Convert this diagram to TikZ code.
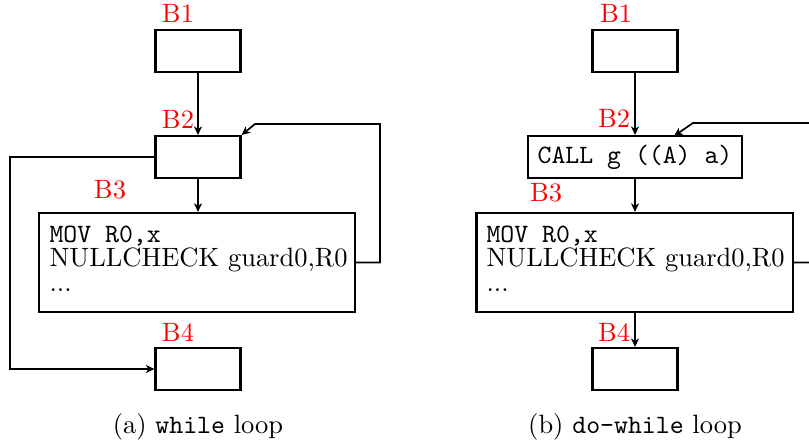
\documentclass[tikz,border=0pt]{standalone}
\usetikzlibrary{arrows.meta}
\begin{document}
\begin{tikzpicture}[x=0.3774pt,y=-0.3774pt,
  blk/.style={draw,line width=0.8pt,rectangle,inner sep=0pt},
  smallblk/.style={blk,minimum width=32.1pt,minimum height=15.85pt},
  lbl/.style={text=red,anchor=base,inner sep=0pt,font=\fontsize{10}{12}\selectfont},
  conn/.style={line width=0.65pt,-{Stealth[length=3.2pt,width=3pt,inset=0.9pt]}},
  codetext/.style={anchor=north west,inner sep=0pt,align=left,font=\fontsize{10}{9.4}\selectfont},
  captext/.style={anchor=base,inner sep=0pt}]
\useasboundingbox (0,0) rectangle (809,443);
% ---------- (a) while loop ----------
\node[smallblk] (a1) at (198,51) {};
\node[smallblk] (a2) at (198,157) {};
\node[blk,minimum width=119.3pt,minimum height=37.4pt] (a3) at (197,262.5) {};
\node[smallblk] (a4) at (198,369) {};
\node[lbl] (la1) at (178,23) {B1};
\node[lbl] (la2) at (178,129) {B2};
\node[lbl] (la3) at (110,199) {B3};
\node[lbl] (la4) at (178,341) {B4};
\node[codetext] (ta3) at (49,225) {\texttt{MOV R0,x}\\NULLCHECK guard0,R0\\...};
\draw[conn] (a1) -- (a2);
\draw[conn] (a2) -- (a2 |- a3.north);
\coordinate (aL) at (10,157);
\draw[conn] (a2.west) -- (aL) |- (a4.west);
\coordinate (aR) at (380,124);
\coordinate (aK) at (255,124);
\draw[conn] (a3.east) -| (aR) -- (aK) -- (a2.north east);
\node[captext] (capa) at (198,433) {(a) \texttt{while} loop};
% ---------- (b) do-while loop ----------
\node[smallblk] (b1) at (635,51) {};
\node[blk,minimum width=80.8pt,minimum height=15.85pt,font=\ttfamily] (b2) at (635,157) {CALL g ((A) a)};
\node[blk,minimum width=119.3pt,minimum height=37.4pt] (b3) at (634.5,262.5) {};
\node[smallblk] (b4) at (635,369) {};
\node[lbl] (lb1) at (616,23) {B1};
\node[lbl] (lb2) at (614,128) {B2};
\node[lbl] (lb3) at (546,202) {B3};
\node[lbl] (lb4) at (614,341) {B4};
\node[codetext] (tb3) at (486,225) {\texttt{MOV R0,x}\\NULLCHECK guard0,R0\\...};
\draw[conn] (b1) -- (b2);
\draw[conn] (b2) -- (b2 |- b3.north);
\draw[conn] (b3.south -| b4) -- (b4);
\coordinate (bR) at (830,123);
\coordinate (bK) at (693,123);
\coordinate (bT) at (674,136);
\draw[conn] (b3.east) -| (bR) -- (bK) -- (bT);
\node[captext] (capb) at (635,433) {(b) \texttt{do-while} loop};
\end{tikzpicture}
\end{document}
